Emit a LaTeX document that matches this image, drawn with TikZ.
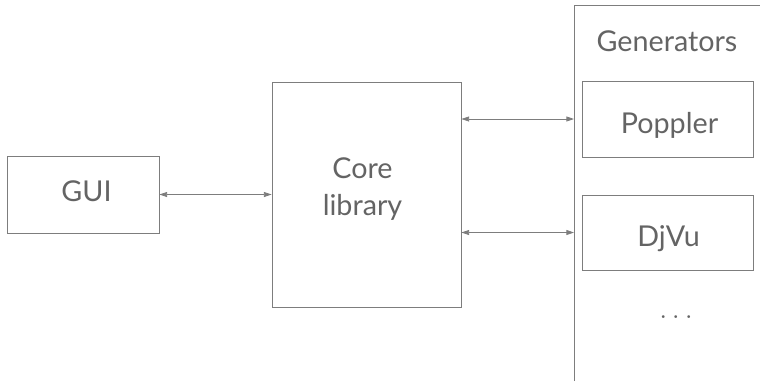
\documentclass[tikz,border=0pt]{standalone}
\usepackage{fontspec}
\setmainfont{Lato}
\usetikzlibrary{calc,arrows.meta}
\definecolor{linegray}{RGB}{125,125,125}
\definecolor{textgray}{RGB}{100,100,100}

\begin{document}
\begin{tikzpicture}[x=0.03cm, y=-0.03cm, font=\fontsize{24.5}{31.5}\selectfont,
	line width=0.7pt, draw=linegray, text=textgray,
	box/.style={draw=linegray, inner sep=0pt},
	txt/.style={anchor=base, inner sep=0pt},
	link/.style={{Triangle[length=2.3mm,width=1.5mm]}-{Triangle[length=2.3mm,width=1.5mm]}}]
			\useasboundingbox (0,0) rectangle (760,383);
			\coordinate (G) at (574,5);
			\coordinate (H) at (574,381);
			\coordinate (K) at (760,5);
			\draw (H)--(G)--(K);
			\node[box, minimum width=4.56cm, minimum height=2.31cm] (gui) at (83,194.5) {};
			\node[box, minimum width=5.67cm, minimum height=6.75cm] (core) at (366.5,194.5) {};
			\node[box, minimum width=5.13cm, minimum height=2.28cm] (poppler) at (667.5,119) {};
			\node[box, minimum width=5.13cm, minimum height=2.25cm] (djvu) at (667.5,232.5) {};
			\node[txt] (guitext) at (86.5,201.7) {GUI};
			\node[txt, align=center] (coretext) at (362.5,215) {Core\\library};
			\node[txt] (popplertext) at (669.5,133) {Poppler};
			\node[txt] (djvutext) at (668.5,246) {DjVu};
			\node[txt] (gen) at (667,51.7) {Generators};
			\node[txt] (dots) at (676,318) {$\ldots$};
			\draw[link] (gui)--(core);
			\draw[link] (core.east |- poppler)--(G |- poppler);
			\draw[link] (core.east |- djvu)--(G |- djvu);
		\end{tikzpicture}
\end{document}
